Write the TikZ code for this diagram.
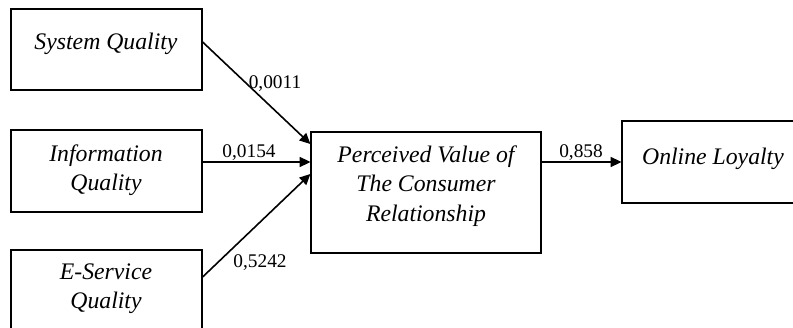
\documentclass[tikz,border=0pt]{standalone}
\usepackage{fontspec}
\setmainfont{Liberation Serif}
\usetikzlibrary{arrows.meta,calc}

\tikzset{
  varbox/.style={draw, line width=0.9pt, rectangle, inner sep=0pt},
  vartext/.style={inner sep=0pt, align=center, font=\fontsize{17.8}{22}\selectfont\itshape},
  coef/.style={inner sep=0pt, font=\fontsize{14.5}{17}\selectfont},
  path/.style={line width=1.2pt, -{Triangle[length=8pt,width=7.5pt]}}
}

\begin{document}
\begin{tikzpicture}[x=0.75pt,y=0.75pt,yscale=-1,xscale=1]
\useasboundingbox (0,0) rectangle (793,328);
%Shape: Rectangle [System Quality]
\node[varbox, minimum width=191*0.75pt, minimum height=81*0.75pt] (sq) at (106.5,49.5) {};
%Shape: Rectangle [Information Quality]
\node[varbox, minimum width=191*0.75pt, minimum height=82*0.75pt] (iq) at (106.5,171) {};
%Shape: Rectangle [E-Service Quality]
\node[varbox, minimum width=191*0.75pt, minimum height=82*0.75pt] (esq) at (106.5,291) {};
%Shape: Rectangle [Perceived Value]
\node[varbox, minimum width=230*0.75pt, minimum height=121*0.75pt] (pv) at (426,192.5) {};
%Shape: Rectangle [Online Loyalty]
\node[varbox, minimum width=180*0.75pt, minimum height=82*0.75pt] (ol) at (712,162) {};

% Text Node
\node[vartext] (sqt) at (106,44) {System Quality};
% Text Node
\node[vartext] (iqt) at (106,170) {Information\\Quality};
% Text Node
\node[vartext] (esqt) at (106,289) {E-Service\\Quality};
% Text Node
\node[vartext] (pvt) at (426,186) {Perceived Value of\\The Consumer\\Relationship};
% Text Node
\node[vartext] (olt) at (713,159) {Online Loyalty};

%Straight Lines
\draw[path] ($(sq.east)+(0,-7.5)$) -- ($(pv.west)+(0,-48.5)$);
\draw[path] ($(iq.east)+(0,-9)$) -- ($(pv.west)+(0,-30.5)$);
\draw[path] ($(esq.east)+(0,-14)$) -- ($(pv.west)+(0,-18.5)$);
\draw[path] ($(pv.east)+(0,-30.5)$) -- (ol.west);

% Coefficients
\node[coef] (c1) at (275,84) {0,0011};
\node[coef] (c2) at (249,153) {0,0154};
\node[coef] (c3) at (260,263) {0,5242};
\node[coef] (c4) at (581,153) {0,858};
\end{tikzpicture}
\end{document}
